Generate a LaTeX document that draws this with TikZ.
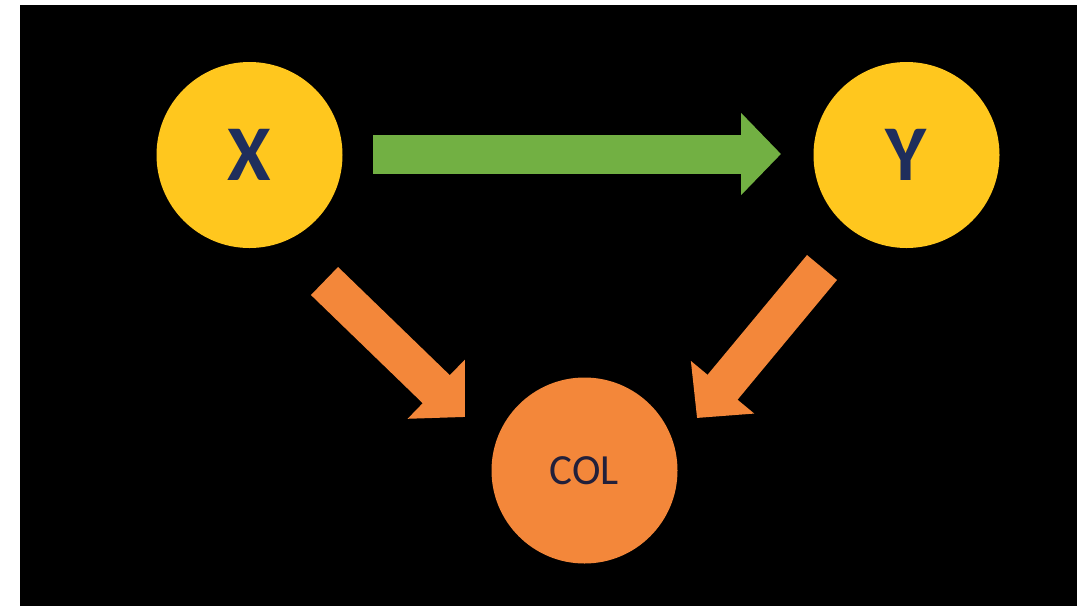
\documentclass[tikz,border=0pt]{standalone}
\usepackage{fontspec}
\setmainfont{Carlito}
\usetikzlibrary{arrows.meta}
\definecolor{sun}{HTML}{FFC71E}
\definecolor{ember}{HTML}{F3873A}
\definecolor{leaf}{HTML}{72B043}
\definecolor{ink}{HTML}{1F2E5C}
\definecolor{inkdark}{HTML}{22203A}
\begin{document}
\begin{tikzpicture}[x=1pt,y=-1pt,
  ball/.style={circle, inner sep=0pt, minimum size=186pt},
  varball/.style={ball, fill=sun, text=ink, font=\fontsize{79}{79}\bfseries\selectfont},
  colball/.style={ball, fill=ember, text=inkdark, font=\fontsize{43}{43}\selectfont},
  blockarrow/.style={line width=39pt, line cap=butt,
    -{Triangle[length=40pt, width=80pt]}},
]
% page and dark panel
\fill[white] (0,0) rectangle (1089,606);
\fill[black] (20,5) rectangle (1077,606);
\useasboundingbox (0,0) rectangle (1089,606);

% variables
\node[varball] (X) at (249.5,155) {\raisebox{-3pt}{X}};
\node[varball] (Y) at (906.5,155) {\raisebox{-3pt}{Y}};
\node[colball] (C) at (584.5,470.5) {\raisebox{-3pt}{COL}};

% arrow end points
\coordinate (gs) at (373,154);
\coordinate (ge) at (781,154);
\coordinate (ls) at (324.5,281);
\coordinate (le) at (465,417);
\coordinate (rs) at (822,267.5);
\coordinate (re) at (697,418);

% arrows
\draw[blockarrow, leaf] (gs) -- (ge);
\draw[blockarrow, ember] (ls) -- (le);
\draw[blockarrow, ember] (rs) -- (re);
\end{tikzpicture}
\end{document}
